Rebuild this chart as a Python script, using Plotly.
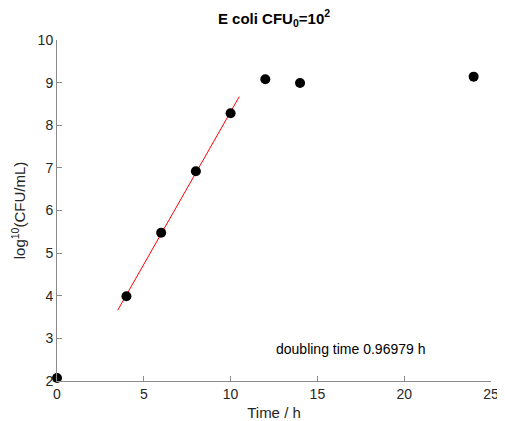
import numpy as np
import plotly.graph_objects as go

time_h = [0, 4, 6, 8, 10, 12, 14, 24]
log_cfu = [2.07, 3.99, 5.48, 6.92, 8.28, 9.08, 8.99, 9.14]
fit_idx = [1, 2, 3, 4]
fit_x = [3.5, 10.5]
x_ticks = [0, 5, 10, 15, 20, 25]
y_ticks = [2, 3, 4, 5, 6, 7, 8, 9, 10]

fx = np.array([time_h[i] for i in fit_idx])
fy = np.array([log_cfu[i] for i in fit_idx])
slope, intercept = np.polyfit(fx, fy, 1)
fit_y = [slope * x + intercept for x in fit_x]

fig = go.Figure()
fig.add_trace(go.Scatter(x=fit_x, y=fit_y, mode="lines",
                         line=dict(color="red", width=1),
                         cliponaxis=False, showlegend=False))
fig.add_trace(go.Scatter(x=time_h, y=log_cfu, mode="markers",
                         marker=dict(color="black", size=10),
                         cliponaxis=False, showlegend=False))

font = "Liberation Sans, Arial, sans-serif"
axis_common = dict(showgrid=False, zeroline=False, showline=True,
                   linecolor="#8a8a8a", linewidth=1, ticks="inside",
                   ticklen=5, tickcolor="#8a8a8a", mirror=False, automargin=False,
                   tickfont=dict(family=font, size=14, color="#262626"))
fig.update_xaxes(range=[0, 25], tickvals=x_ticks, **axis_common,
                 title=dict(text="Time / h", font=dict(family=font, size=15, color="#262626"), standoff=6))
fig.update_yaxes(range=[2, 10], tickvals=y_ticks, **axis_common,
                 title=dict(text="log<sup>10</sup>(CFU/mL)", font=dict(family=font, size=15, color="#262626"), standoff=8))

fig.add_annotation(x=12.5, y=2.75, xref="x", yref="y", xanchor="left", yanchor="middle",
                   text="doubling time 0.96979 h", showarrow=False,
                   font=dict(family=font, size=14, color="black"))

fig.update_layout(
    width=497, height=413,
    margin=dict(l=49, r=14, t=32, b=40),
    paper_bgcolor="white", plot_bgcolor="white",
    title=dict(text="<b>E coli CFU<sub>0</sub>=10<sup>2</sup></b>", x=0.5, xref="paper", xanchor="center",
               y=0.975, yref="container", yanchor="middle", font=dict(family=font, size=15, color="black")),
)
fig.write_html("out.html")
